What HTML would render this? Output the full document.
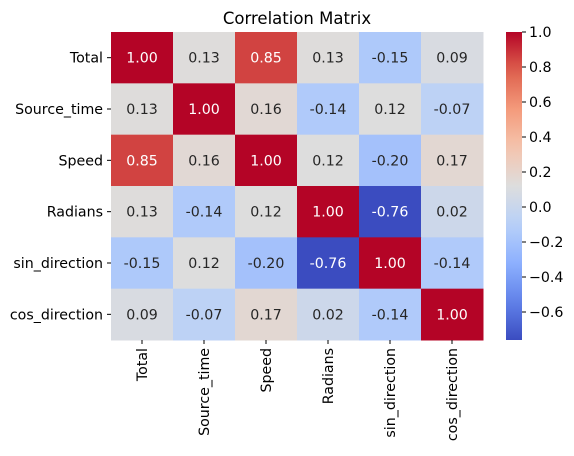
<!DOCTYPE html>
<html><head><meta charset="utf-8"><style>
body{margin:0;background:#fff;font-family:"Liberation Sans","DejaVu Sans",sans-serif}
svg text{font-family:"DejaVu Sans","Liberation Sans",sans-serif}
</style></head><body>
<svg id="chart" width="574" height="451" xmlns="http://www.w3.org/2000/svg">
<text x="297" y="24" font-size="16.5" text-anchor="middle">Correlation Matrix</text>
<g id="cells"></g><g id="cbar"></g>
<defs><linearGradient id="grad" x1="0" y1="1" x2="0" y2="0"></linearGradient></defs>
</svg>
<script>
const labels=["Total","Source_time","Speed","Radians","sin_direction","cos_direction"];
const row0=[1.00,0.13,0.85,0.13,-0.15,0.09];
const row1=[0.13,1.00,0.16,-0.14,0.12,-0.07];
const row2=[0.85,0.16,1.00,0.12,-0.20,0.17];
const row3=[0.13,-0.14,0.12,1.00,-0.76,0.02];
const row4=[-0.15,0.12,-0.20,-0.76,1.00,-0.14];
const row5=[0.09,-0.07,0.17,0.02,-0.14,1.00];
const matrix=[row0,row1,row2,row3,row4,row5];
const cbTicks=[-0.6,-0.4,-0.2,0.0,0.2,0.4,0.6,0.8,1.0];
const vmin=-0.76,vmax=1.0;
const L=111,T=32,R=483,B=340;
const cw=(R-L)/labels.length,ch=(B-T)/labels.length;
const stops=[[59,76,192],[97,130,234],[141,176,254],[184,208,249],[221,221,221],[245,196,173],[244,154,123],[222,96,77],[180,4,38]];
function cmap(v){let t=Math.max(0,Math.min(1,(v-vmin)/(vmax-vmin)))*8;let i=Math.min(7,Math.floor(t));let f=t-i;
 const a=stops[i],b=stops[i+1];return a.map((c,k)=>Math.round(c+(b[k]-c)*f));}
const NS="http://www.w3.org/2000/svg";
function mk(tag,attrs,parent,txt){const e=document.createElementNS(NS,tag);for(const k in attrs)e.setAttribute(k,attrs[k]);if(txt!==undefined)e.textContent=txt;parent.appendChild(e);return e;}
const g=document.getElementById('cells');
const FS=14.2;
matrix.forEach((row,r)=>row.forEach((v,c)=>{
 const col=cmap(v);
 const rect=mk('rect',{x:L+c*cw,y:T+r*ch,width:cw+0.5,height:ch+0.5,fill:`rgb(${col})`},g);
 
 
 const lum=0.299*col[0]+0.587*col[1]+0.114*col[2];
 const t=mk('text',{x:L+(c+0.5)*cw,y:T+(r+0.5)*ch+5,'font-size':FS,'text-anchor':'middle',fill:lum<140?'#fff':'#262626'},g,v.toFixed(2));
 
 
}));
labels.forEach((lb,i)=>{
 const y=T+(i+0.5)*ch;
 mk('line',{x1:L-4,x2:L,y1:y,y2:y,stroke:'#000'},g);
 const t=mk('text',{x:L-8,y:y+5,'font-size':FS,'text-anchor':'end'},g,lb);
 
 
 const x=L+(i+0.5)*cw;
 mk('line',{x1:x,x2:x,y1:B,y2:B+4,stroke:'#000'},g);
 const t2=mk('text',{x:0,y:0,'font-size':FS,'text-anchor':'end',transform:`translate(${x+5},${B+8}) rotate(-90)`},g,lb);
 
 
});
const grad=document.getElementById('grad');
for(let k=0;k<=20;k++){const v=vmin+(vmax-vmin)*k/20;mk('stop',{offset:(k/20),'stop-color':`rgb(${cmap(v)})`},grad);}
const cb=document.getElementById('cbar');
const CX=506,CW=16;
const bar=mk('rect',{x:CX,y:T,width:CW,height:B-T,fill:'url(#grad)'},cb);


cbTicks.forEach(v=>{
 const y=B-(v-vmin)/(vmax-vmin)*(B-T);
 mk('line',{x1:CX+CW,x2:CX+CW+4,y1:y,y2:y,stroke:'#000'},cb);
 const t=mk('text',{x:CX+CW+7,y:y+5,'font-size':FS},cb,(v<0?'\u2212':'')+Math.abs(v).toFixed(1));
 
 
});
</script>
</body></html>
